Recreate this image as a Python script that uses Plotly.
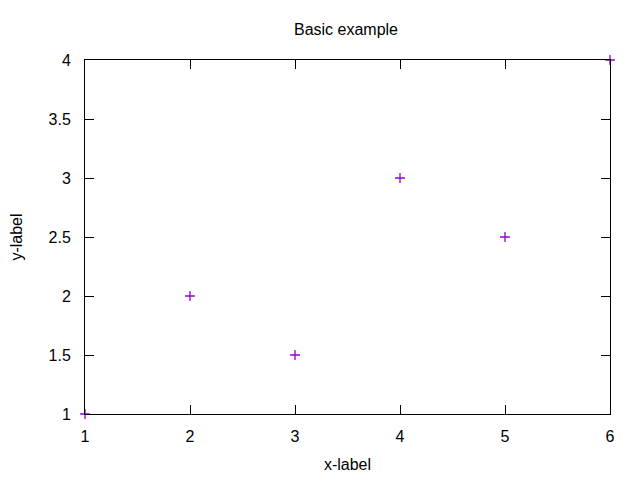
import plotly.graph_objects as go

x_vals = [1, 2, 3, 4, 5, 6]
y_vals = [1, 2, 1.5, 3, 2.5, 4]
x_ticks = [1, 2, 3, 4, 5, 6]
y_ticks = [1, 1.5, 2, 2.5, 3, 3.5, 4]
y_tick_text = ["1", "1.5", "2", "2.5", "3", "3.5", "4"]

FONT = "Liberation Sans, Arial, sans-serif"

fig = go.Figure()
fig.add_trace(go.Scatter(
    x=x_vals, y=y_vals, mode="markers",
    marker=dict(symbol="cross-thin", size=7, line=dict(color="#9400D3", width=1.3), color="#9400D3"),
    cliponaxis=False, showlegend=False,
))

axis_common = dict(
    showgrid=False, zeroline=False, showline=True, linecolor="black", linewidth=1,
    mirror="ticks", ticks="inside", ticklen=9, tickcolor="black", tickwidth=1,
    tickfont=dict(family=FONT, size=16, color="black"), automargin=False,
)
fig.update_xaxes(range=[1, 6], tickvals=x_ticks, ticklabelstandoff=8,
                 title=dict(text="x-label", font=dict(size=16, family=FONT, color="black"), standoff=14),
                 **axis_common)
fig.update_yaxes(range=[1, 4], tickvals=y_ticks, ticktext=y_tick_text, ticklabelstandoff=10,
                 title=dict(text="y-label", font=dict(size=16, family=FONT, color="black"), standoff=23),
                 **axis_common)

fig.update_layout(
    width=640, height=480,
    margin=dict(l=77, r=38, t=52, b=74),
    paper_bgcolor="white", plot_bgcolor="white",
    title=dict(text="Basic example", x=338/640, xanchor="center", y=1-21/480, yanchor="middle",
               font=dict(size=16, family=FONT, color="black")),
)
fig.write_html("out.html")
